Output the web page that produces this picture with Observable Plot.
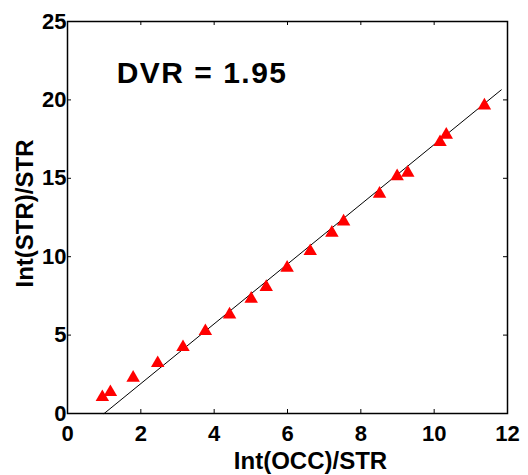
<!DOCTYPE html>
<html>
<head>
<meta charset="utf-8">
<script src="https://cdn.jsdelivr.net/npm/d3@7"></script>
<script src="https://cdn.jsdelivr.net/npm/@observablehq/plot@0.6"></script>
<style>
  html, body { margin: 0; padding: 0; background: #fff; }
  #chart svg { display: block; }
  #chart g[font-size="30"] text { letter-spacing: 1.5px; }
</style>
</head>
<body>
<div id="chart"></div>
<script>
// Measured points (triangles)
const occRatio = [0.95, 1.17, 1.79, 2.46, 3.15, 3.76, 4.42, 5.01, 5.42, 5.99, 6.62, 7.21, 7.53, 8.51, 8.99, 9.28, 10.16, 10.33, 11.37];
const strRatio = [1.04, 1.36, 2.28, 3.21, 4.23, 5.25, 6.31, 7.31, 8.06, 9.29, 10.35, 11.52, 12.24, 14.01, 15.13, 15.35, 17.30, 17.77, 19.64];
// Fitted line endpoints
const fitX = [1.0, 11.83];
const fitY = [0, 20.64];
// Ticks
const xTicks = [0, 2, 4, 6, 8, 10, 12];
const yTicks = [0, 5, 10, 15, 20, 25];
// Texts
const annotation = "DVR = 1.95";
const xLabel = "Int(OCC)/STR";
const yLabel = "Int(STR)/STR";

const points = occRatio.map((x, i) => ({x, y: strRatio[i]}));
const fit = fitX.map((x, i) => ({x, y: fitY[i]}));

const font = "'Liberation Sans', Arial, sans-serif";
const W = 528, H = 475, mL = 67, mR = 21, mT = 21, mB = 62;
const frameW = W - mL - mR, frameH = H - mT - mB, tickLen = 4;

const chart = Plot.plot({
  width: W,
  height: H,
  marginLeft: mL,
  marginRight: mR,
  marginTop: mT,
  marginBottom: mB,
  style: {fontFamily: font, color: "#000", background: "#fff"},
  x: {domain: [0, 12], axis: null},
  y: {domain: [0, 25], axis: null},
  marks: [
    // tick labels
    Plot.text(xTicks, {x: d => d, frameAnchor: "bottom", text: d => String(d), lineAnchor: "top", textAnchor: "middle", dy: 12, fontSize: 22, fontWeight: "bold", fill: "#000"}),
    Plot.text(yTicks, {y: d => d, frameAnchor: "left", text: d => String(d), lineAnchor: "middle", textAnchor: "end", dx: -1, fontSize: 22, fontWeight: "bold", fill: "#000"}),
    // inward ticks on all sides
    Plot.tickX(xTicks, {x: d => d, insetTop: frameH - tickLen, stroke: "#000"}),
    Plot.tickX(xTicks, {x: d => d, insetBottom: frameH - tickLen, stroke: "#000"}),
    Plot.tickY(yTicks, {y: d => d, insetRight: frameW - tickLen, stroke: "#000"}),
    Plot.tickY(yTicks, {y: d => d, insetLeft: frameW - tickLen, stroke: "#000"}),
    Plot.frame({stroke: "#000", strokeWidth: 1.5}),
    Plot.line(fit, {x: "x", y: "y", stroke: "#000", strokeWidth: 1}),
    Plot.dot(points, {x: "x", y: "y", symbol: "triangle", r: 5, fill: "#ff0000", stroke: "none"}),
    Plot.text([annotation], {x: 1.34, y: 21.68, text: d => d, textAnchor: "start", lineAnchor: "middle", fontSize: 30, fontWeight: "bold", fill: "#000"}),
    Plot.text([xLabel], {frameAnchor: "bottom", text: d => d, dx: 23, dy: 48, textAnchor: "middle", lineAnchor: "middle", fontSize: 24, fontWeight: "bold", fill: "#000"}),
    Plot.text([yLabel], {frameAnchor: "left", text: d => d, dx: -42, dy: -4, rotate: -90, textAnchor: "middle", lineAnchor: "middle", fontSize: 24, fontWeight: "bold", fill: "#000"})
  ]
});
document.getElementById("chart").appendChild(chart);
</script>
</body>
</html>
